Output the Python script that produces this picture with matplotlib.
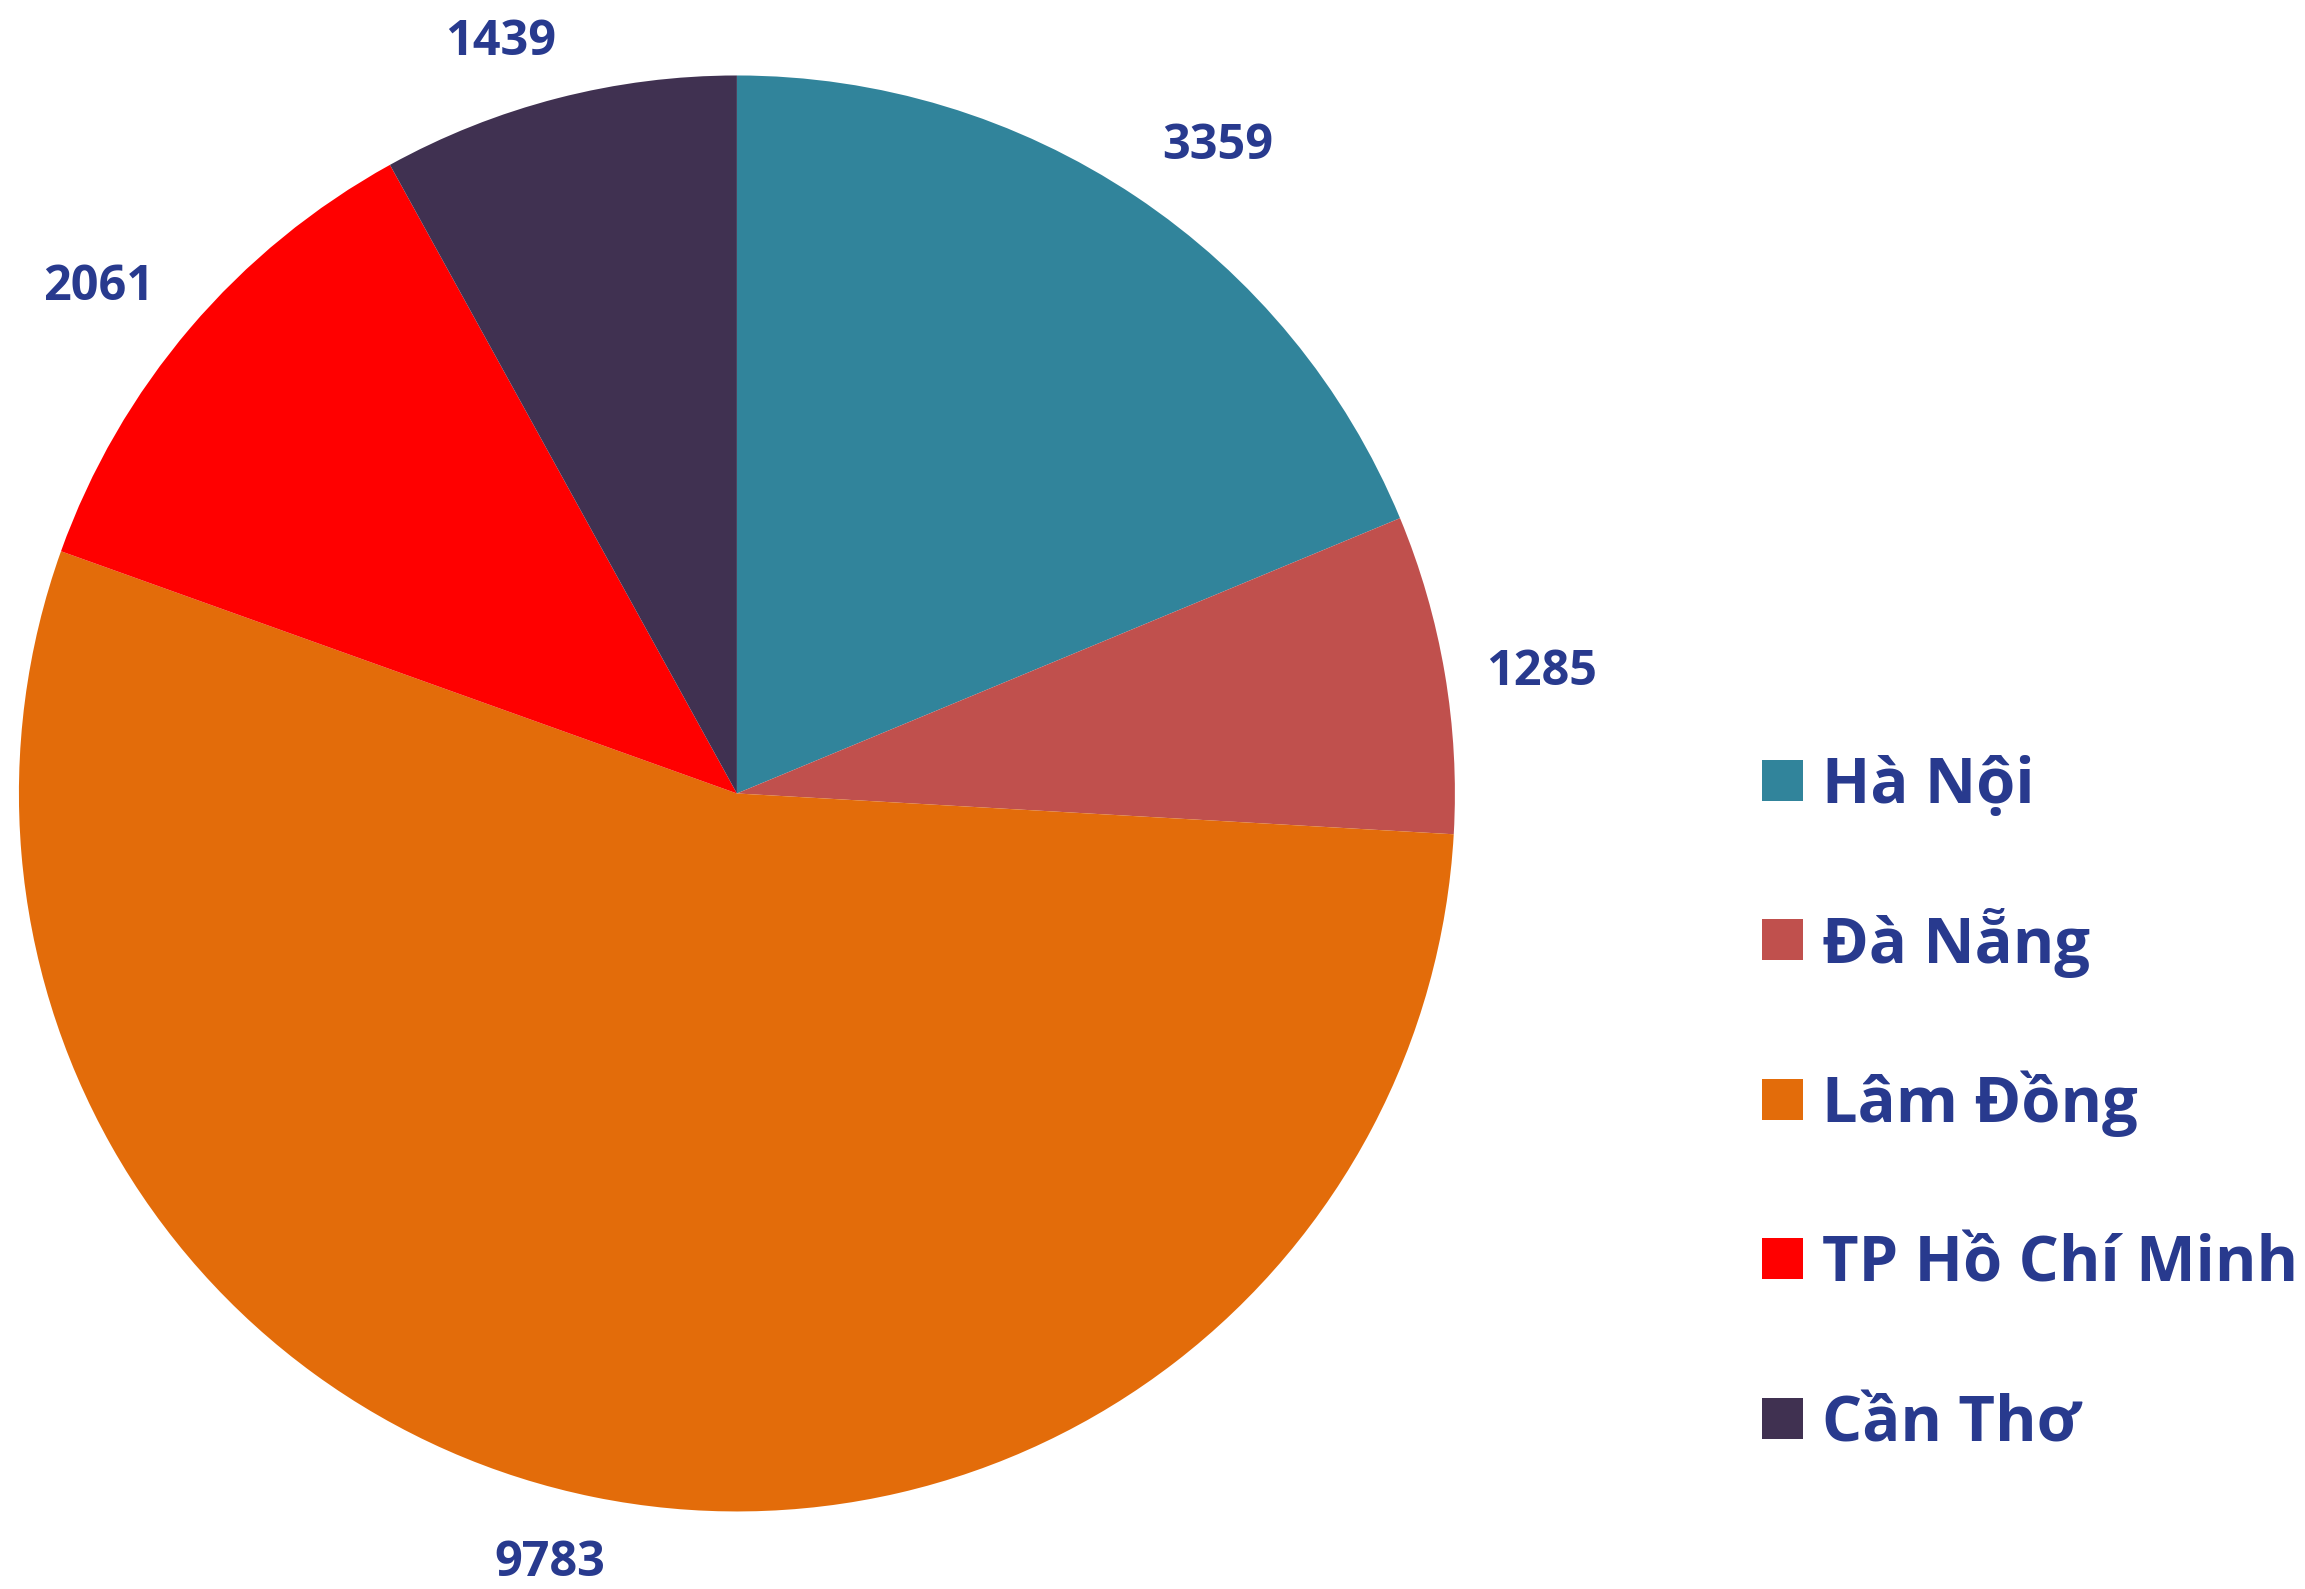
import numpy as np
import matplotlib.pyplot as plt
from matplotlib.patches import Rectangle

cities = ["Hà Nội", "Đà Nẵng", "Lâm Đồng", "TP Hồ Chí Minh", "Cần Thơ"]
values = [3359, 1285, 9783, 2061, 1439]
colors = ["#31849B", "#C0504D", "#E36C0A", "#FF0000", "#403151"]

# label placement (radius in pie units, angle nudge in degrees)
label_dist = [1.122, 1.134, 1.104, 1.134, 1.097]
label_nudge = [-2.9, -1.1, -2.2, 2.0, 3.0]

text_color = "#283A8E"
W, H = 2305, 1589

fig = plt.figure(figsize=(W / 100, H / 100), dpi=100)
ax = fig.add_axes([0.0082, 0.0488, 0.623, 0.9037])

wedges, _ = ax.pie(values, colors=colors, startangle=90, counterclock=False,
                   wedgeprops=dict(linewidth=0))

for w, v, d, da in zip(wedges, values, label_dist, label_nudge):
    ang = np.deg2rad((w.theta1 + w.theta2) / 2 + da)
    ax.text(d * np.cos(ang), d * np.sin(ang), str(v), ha="center", va="center",
            color=text_color, fontsize=35, fontweight="bold", family="Open Sans")

ax.set_aspect("equal")
ax.set_xlim(-1, 1)
ax.set_ylim(-1, 1)
ax.axis("off")

# legend drawn by hand so the rows are evenly spaced
box = 41
step = 159.5
for i, (name, c) in enumerate(zip(cities, colors)):
    yc = 780 + i * step
    fig.add_artist(Rectangle((1762 / W, 1 - (yc + box / 2) / H), box / W, box / H,
                             facecolor=c, edgecolor="none", transform=fig.transFigure))
    fig.text(1822 / W, 1 - (yc + 23) / H, name, ha="left", va="baseline",
             color=text_color, fontsize=45.5, fontweight="bold", family="Open Sans")

fig.savefig("out.png", dpi=100)
